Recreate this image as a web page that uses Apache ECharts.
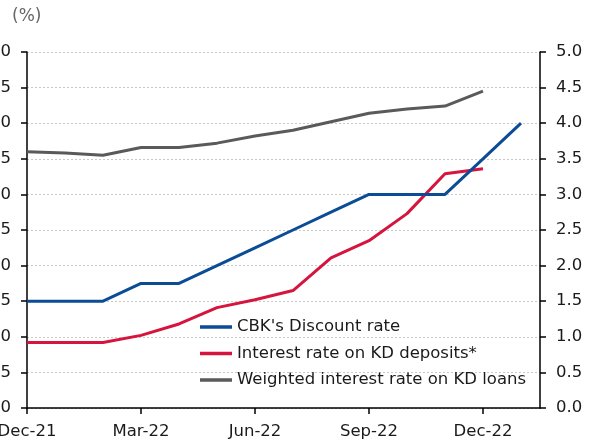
<!DOCTYPE html>
<html>
<head>
<meta charset="utf-8">
<script src="https://cdn.jsdelivr.net/npm/echarts@6/dist/echarts.min.js"></script>
<style>
html,body{margin:0;padding:0;background:#fff;}
#chart{width:597px;height:441px;}
</style>
</head>
<body>
<div id="chart"></div>
<script>
// Monthly observations Dec-21 .. Jan-23
const months = ['Dec-21','Jan-22','Feb-22','Mar-22','Apr-22','May-22','Jun-22','Jul-22','Aug-22','Sep-22','Oct-22','Nov-22','Dec-22','Jan-23'];
const tickLabels = ['Dec-21','Mar-22','Jun-22','Sep-22','Dec-22'];
const discountRate = [1.5,1.5,1.5,1.75,1.75,2.0,2.25,2.5,2.75,3.0,3.0,3.0,3.5,4.0];
const depositRate  = [0.92,0.92,0.92,1.02,1.18,1.41,1.52,1.65,2.11,2.35,2.73,3.29,3.36];
const loanRate     = [3.60,3.58,3.55,3.66,3.66,3.72,3.82,3.90,4.02,4.14,4.20,4.24,4.45];
const seriesNames = ["CBK's Discount rate","Interest rate on KD deposits*","Weighted interest rate on KD loans"];

const toPairs = arr => arr.map((v,i)=>[i,v]);
const font = 'DejaVu Sans';
const txt = '#1a1a1a';

const chart = echarts.init(document.getElementById('chart'), null, {renderer:'canvas'});
const yAxisBase = {
  type:'value', min:0, max:5, interval:0.5,
  axisLine:{show:true, lineStyle:{color:'#000', width:1.5}},
  axisTick:{show:true, length:6, lineStyle:{color:'#000', width:1.5}},
  axisLabel:{fontFamily:font, fontSize:16.5, color:txt, margin:16, formatter:v=>v.toFixed(1)},
};
chart.setOption({
  animation:false,
  backgroundColor:'#fff',
  graphic:[{type:'text', left:12, top:8, style:{text:'(%)', fontFamily:font, fontSize:17, fill:'#666'}}],
  grid:{left:27, right:57, top:52, bottom:33, containLabel:false, outerBoundsMode:'none'},
  legend:{
    orient:'vertical', left:200, top:317, padding:0, itemWidth:32, itemHeight:3.5, itemGap:6.5,
    icon:'rect',
    data:seriesNames,
    textStyle:{fontFamily:font, fontSize:16.5, color:txt, lineHeight:20}
  },
  xAxis:{
    type:'value', min:0, max:13.5, interval:3,
    axisLine:{show:true, onZero:false, lineStyle:{color:'#000', width:1.5}},
    axisTick:{show:true, length:6, lineStyle:{color:'#000', width:1.5}},
    splitLine:{show:false},
    axisLabel:{fontFamily:font, fontSize:16.5, color:txt, margin:15, showMaxLabel:false,
      formatter:v=>{ const k=v/3; return Number.isInteger(k)&&tickLabels[k]?tickLabels[k]:''; }}
  },
  yAxis:[
    Object.assign({}, yAxisBase, {position:'left',
      splitLine:{show:true, lineStyle:{color:'#c8c8c8', type:[2,2], width:1}}}),
    Object.assign({}, yAxisBase, {position:'right', splitLine:{show:false}})
  ],
  series:[
    {name:seriesNames[0], type:'line', data:toPairs(discountRate), showSymbol:false, z:4,
     lineStyle:{width:3, color:'#0a4c95'}, itemStyle:{color:'#0a4c95'}},
    {name:seriesNames[1], type:'line', data:toPairs(depositRate), showSymbol:false, z:3,
     lineStyle:{width:3, color:'#d5153d'}, itemStyle:{color:'#d5153d'}},
    {name:seriesNames[2], type:'line', data:toPairs(loanRate), showSymbol:false, z:3,
     lineStyle:{width:3, color:'#5a5a5a'}, itemStyle:{color:'#5a5a5a'}}
  ]
});
</script>
</body>
</html>
